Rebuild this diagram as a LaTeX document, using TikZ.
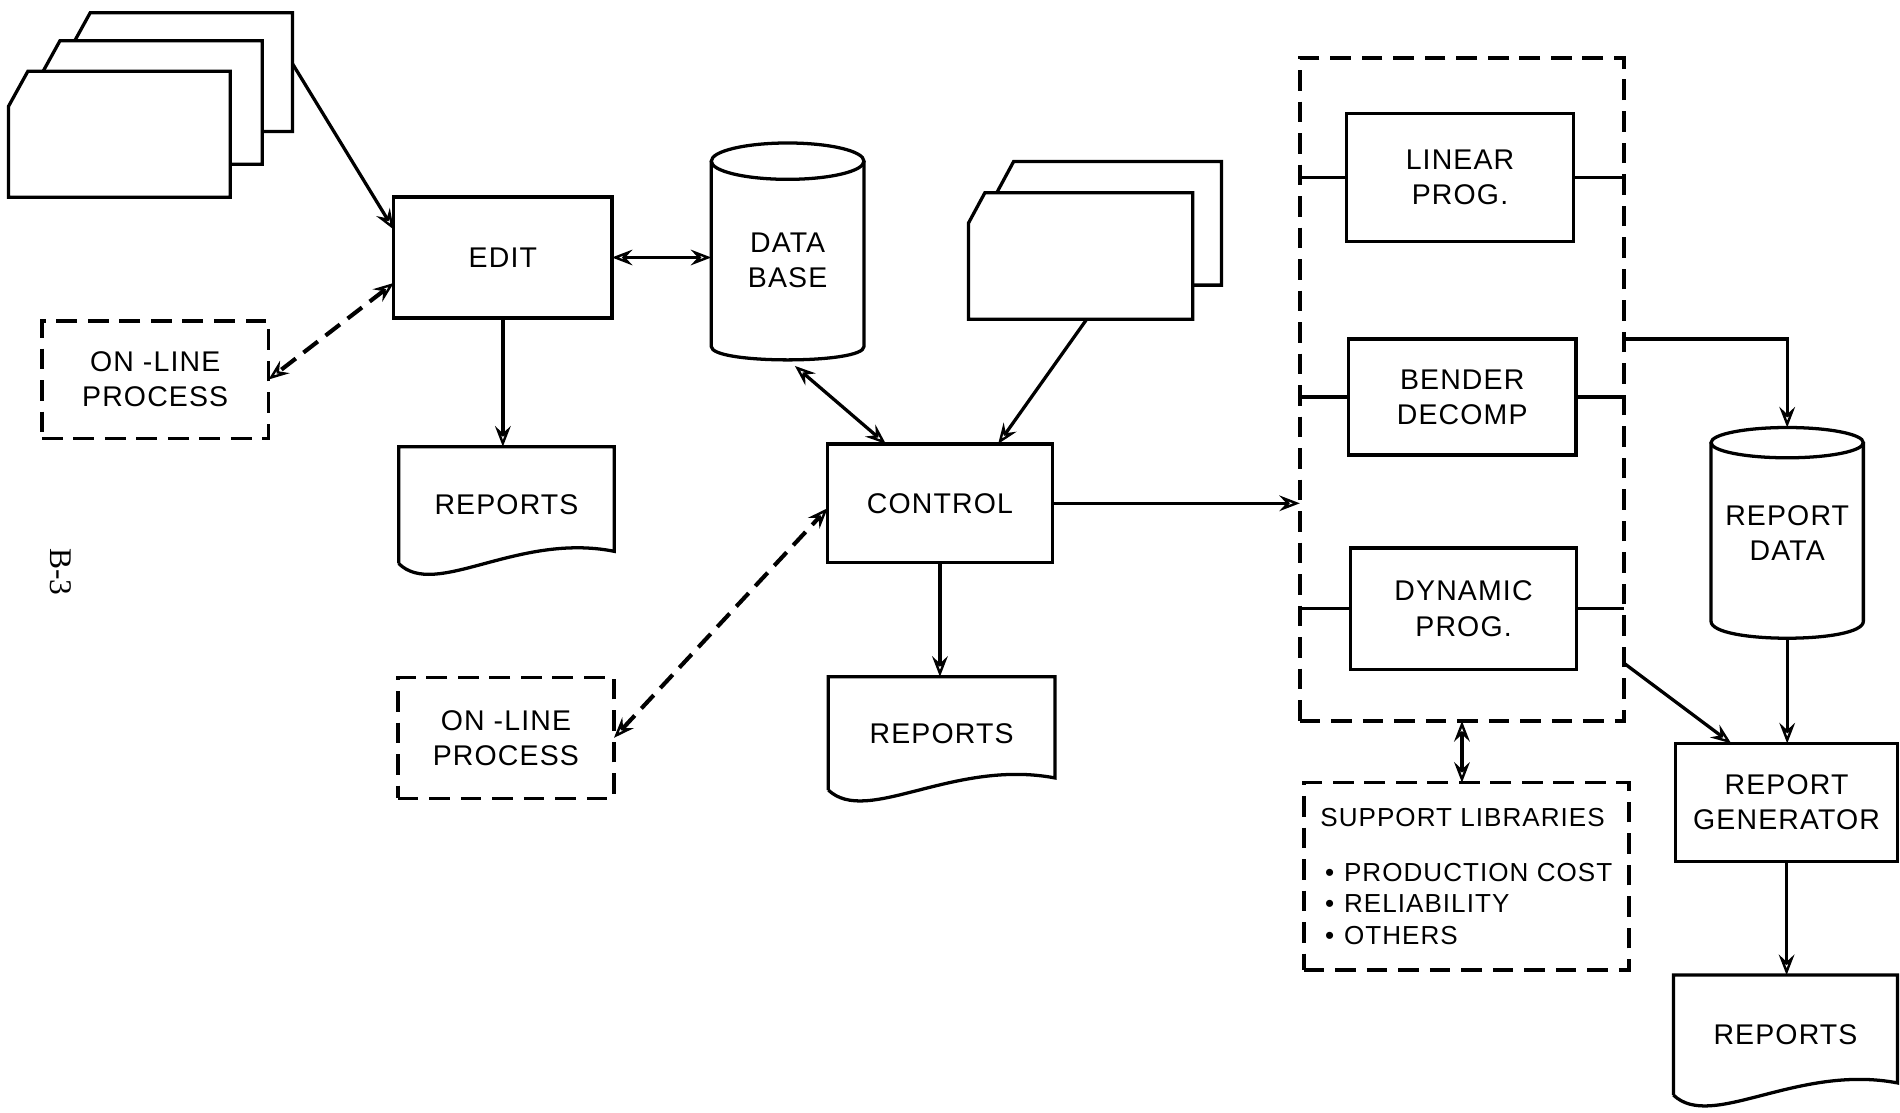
\documentclass[tikz,border=0pt]{standalone}
\usepackage{fontspec}
\setmainfont[LetterSpace=4]{Liberation Sans}
\newfontfamily\pagefam{Liberation Serif}
\usetikzlibrary{arrows.meta,calc}
\newcommand\labfont{\fontsize{23.5}{29}\selectfont}
\newcommand\supfont{\fontsize{21.5}{26}\selectfont}
\tikzset{
  box/.style={draw=black, line width=2.7pt},
  conn/.style={line width=2.7pt},
  proc/.style={box, rectangle, inner sep=0pt, outer sep=0pt, align=center, font=\labfont},
  shapebox/.style={rectangle, inner sep=0pt, outer sep=0pt, align=center, font=\labfont},
  dbox/.style={draw=black, line width=2.9pt, dash pattern=on 17pt off 9pt, rectangle, inner sep=0pt, outer sep=0pt, align=center, font=\labfont},
  tip/.tip={Stealth[open, length=17pt, width=13pt, inset=6pt, line width=2pt]},
  arr/.style={conn, -tip},
  darr/.style={conn, tip-tip},
  ddarr/.style={line width=3.4pt, dash pattern=on 15pt off 8pt, tip-tip},
}
\newcommand\drawcard[3]{\draw[box,fill=white] ($(#1.north west)+(#2,0)$) -- (#1.north east) -- (#1.south east) -- (#1.south west) -- ($(#1.north west)+(0,#3)$) -- cycle;}
\newcommand\drawdoc[1]{\draw[box] (#1.south west) -- (#1.north west) -- (#1.north east) -- ($(#1.south east)+(0,-10)$) .. controls ($(#1.south west)!0.55!(#1.south east)+(0,-26)$) and ($(#1.south west)!0.17!(#1.south east)+(0,30)$) .. (#1.south west);}
\newcommand\drawcyl[4]{%
  \draw[box] ($(#1.north west)+(0,#3)$) -- ($(#1.south west)+(0,-#4)$) .. controls ($(#1.south west)+(0,#4/3)$) and ($(#1.south east)+(0,#4/3)$) .. ($(#1.south east)+(0,-#4)$) -- ($(#1.north east)+(0,#3)$);
  \draw[box] ($(#1.north)+(0,#3)$) ellipse [x radius=#2, y radius=#3];}
\begin{document}
\begin{tikzpicture}[x=1pt,y=-1pt]
\useasboundingbox (0,0) rectangle (1568,918);
% card decks
\node[shapebox, minimum width=183pt, minimum height=98pt] (deckA3) at (149.9,59.6) {};
\node[shapebox, minimum width=183pt, minimum height=102pt] (deckA2) at (125,84.6) {};
\node[shapebox, minimum width=183pt, minimum height=104pt] (deckA1) at (98.5,110.8) {};
\drawcard{deckA3}{16}{29}
\drawcard{deckA2}{16}{29}
\drawcard{deckA1}{16}{29}
\node[shapebox, minimum width=185pt, minimum height=102pt] (deckB2) at (915.5,184.3) {};
\node[shapebox, minimum width=185pt, minimum height=104.5pt] (deckB1) at (891.8,211.25) {};
\drawcard{deckB2}{13.5}{25}
\drawcard{deckB1}{13.5}{25}
% main nodes
\node[proc, minimum width=180pt, minimum height=100pt] (edit) at (415,212.5) {EDIT};
\node[dbox, minimum width=187pt, minimum height=97pt] (ol1) at (128.1,313.2) {ON -LINE\\PROCESS};
\node[shapebox, minimum width=178pt, minimum height=96.4pt] (rep1) at (418,416.8) {REPORTS};
\drawdoc{rep1}
\node[shapebox, minimum width=126pt, minimum height=179pt] (db) at (650,207.5) {};
\drawcyl{db}{63}{15}{11}
\node[font=\labfont, align=center, inner sep=0pt] (dbtext) at (650,214.5) {DATA\\BASE};
\node[proc, minimum width=185.2pt, minimum height=97.9pt] (control) at (775.7,415.35) {CONTROL};
\node[shapebox, minimum width=187pt, minimum height=93.5pt] (rep2) at (777.1,605.25) {REPORTS};
\drawdoc{rep2}
\node[dbox, minimum width=178.4pt, minimum height=99.8pt] (ol2) at (417.5,608.9) {ON -LINE\\PROCESS};
\node[dbox, minimum width=267.6pt, minimum height=547pt] (models) at (1206.5,321.5) {};
\node[proc, minimum width=187.5pt, minimum height=105.7pt] (lp) at (1204.9,146.7) {LINEAR\\PROG.};
\node[proc, minimum width=187.6pt, minimum height=95.8pt] (bd) at (1206.7,327.7) {BENDER\\DECOMP};
\node[proc, minimum width=186.6pt, minimum height=100.2pt] (dp) at (1207.8,502.3) {DYNAMIC\\PROG.};
\node[dbox, minimum width=268.2pt, minimum height=154.6pt, font=\supfont, align=left] (support) at (1210.1,723.2)
  {SUPPORT LIBRARIES\\[19pt]\hspace*{4pt}•\hspace*{8pt}PRODUCTION COST\\\hspace*{4pt}•\hspace*{8pt}RELIABILITY\\\hspace*{4pt}•\hspace*{8pt}OTHERS};
\node[shapebox, minimum width=125.7pt, minimum height=173.9pt] (rd) at (1474.9,439.75) {};
\drawcyl{rd}{62.85}{12.5}{14}
\node[font=\labfont, align=center, inner sep=0pt] (rdtext) at (1474.9,439.75) {REPORT\\DATA};
\node[proc, minimum width=183.4pt, minimum height=97.6pt] (rg) at (1474.4,662.3) {REPORT\\GENERATOR};
\node[shapebox, minimum width=185pt, minimum height=99pt] (rep3) at (1473.5,854.2) {REPORTS};
\drawdoc{rep3}
\node[font=\pagefam\fontsize{26}{26}\selectfont, rotate=-90, inner sep=0pt] (pagenum) at (50,472) {B-3};
% connectors
\draw[arr] ($(deckA3.east)+(0,-7)$) -- ($(edit.north west)+(0,27)$);
\draw[ddarr] ($(edit.south west)+(0,-29)$) -- (ol1.east);
\draw[arr] (edit.south) -- (edit.south |- rep1.north);
\draw[darr] (edit.east) -- (edit.east -| db.west);
\draw[darr] ($(db.south)+(6,5)$) -- ($(control.north west)+(48,0)$);
\draw[arr] ($(deckB1.south)+(5,0)$) -- ($(control.north)+(48,0)$);
\draw[ddarr] (ol2.east) -- ($(control.west)+(0,4)$);
\draw[arr] (control.south) -- (control.south |- rep2.north);
\draw[arr] (control.east) -- (control.east -| models.west);
\foreach \b in {lp,bd,dp} {
  \draw[conn] (\b.west) -- (\b.west -| models.west);
  \draw[conn] (\b.east) -- (\b.east -| models.east);
}
\draw[arr] (bd.north -| models.east) -| (rd.north);
\draw[arr] ($(models.east |- dp.south)+(0,-5)$) -- ($(rg.north west)+(46,0)$);
\draw[arr] (rd.south) -- (rd.south |- rg.north);
\draw[darr] (models.south) -- (models.south |- support.north);
\draw[arr] (rg.south) -- (rg.south |- rep3.north);
\end{tikzpicture}
\end{document}
